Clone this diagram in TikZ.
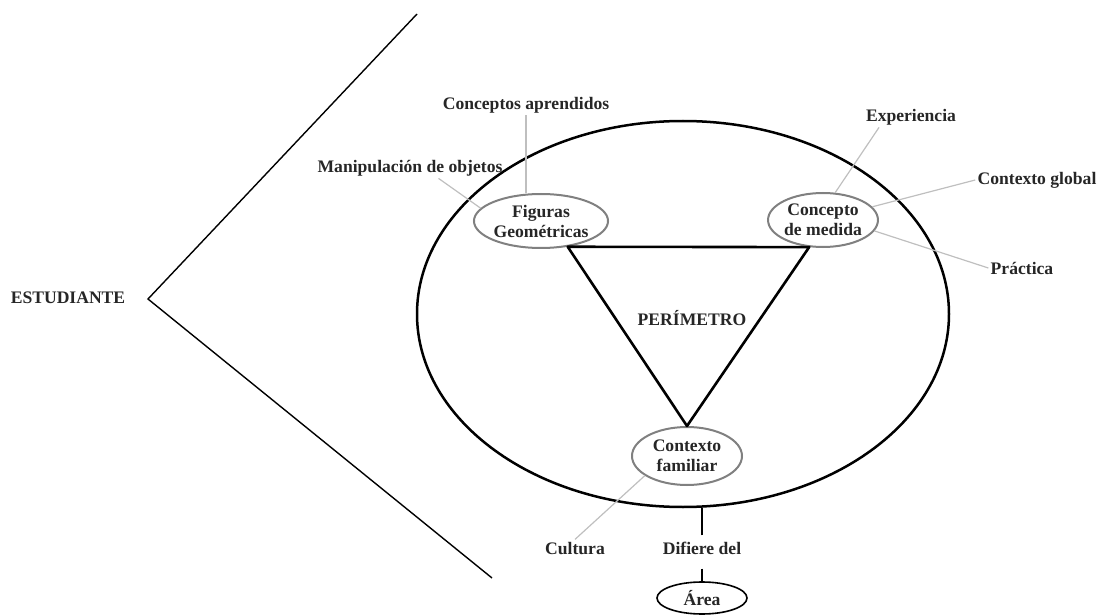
\documentclass[tikz,border=0pt]{standalone}
\usepackage{fontspec}
\setmainfont{Liberation Serif}
\usetikzlibrary{shapes.geometric}
\begin{document}
\begin{tikzpicture}[x=0.5pt,y=-0.5pt]
	\tikzstyle{Texto} = [font=\fontsize{8.8}{10}\selectfont\bfseries, text=black!85, inner sep=1pt, align=center]
	\tikzstyle{Bloque} = [Texto, ellipse, draw=black!50, line width=1pt, inner sep=0pt, fill=white]
	\tikzstyle{Guia} = [draw=black!25, line width=0.6pt]
	\tikzstyle{Lado} = [line width=1.3pt, line join=round]
	\useasboundingbox (0,0) rectangle (1099,615);
	\node (campo) at (683,314) [ellipse, draw, line width=1.25pt, minimum width=266pt, minimum height=193pt] {};
	\node (figuras) at (541,221) [Bloque, minimum width=66pt, minimum height=27pt] {Figuras\\Geométricas};
	\node (concepto) at (823,220) [Bloque, minimum width=53pt, minimum height=27pt] {Concepto\\de medida};
	\node (familiar) at (687,456) [Bloque, minimum width=55pt, minimum height=29pt] {Contexto\\familiar};
	\node (perimetro) at (692,318) [Texto] {PERÍMETRO};
	\node (estudiante) at (68,298) [Texto] {ESTUDIANTE};
	\node (aprendidos) at (526,105) [Texto] {Conceptos aprendidos};
	\node (manipulacion) at (410,168) [Texto] {Manipulación de objetos};
	\node (experiencia) at (911,117) [Texto] {Experiencia};
	\node (global) at (1037,180) [Texto] {Contexto global};
	\node (practica) at (1022,268) [Texto] {Práctica};
	\node (cultura) at (575,548) [Texto] {Cultura};
	\node (difiere) at (702,548) [Texto] {Difiere del};
	\node (area) at (702,598) [Bloque, draw=black, line width=0.8pt, minimum width=45pt, minimum height=16pt] {Área};
	\coordinate (vertice) at (148,299);
	\coordinate (arriba) at (417,14);
	\coordinate (abajo) at (492,578);
	% estudiante
	\draw [line width=0.7pt] (arriba) -- (vertice) -- (abajo);
	% triangulo
	\draw [Lado] (figuras.-44) -- (concepto.-117) -- (familiar.north) -- cycle;
	% guias
	\draw [Guia] (aprendidos.south) -- (aprendidos.south |- figuras.north);
	\draw [Guia] (manipulacion.-20) -- (figuras.168);
	\draw [Guia] (experiencia.-162) -- (concepto.66);
	\draw [Guia] (global.west) -- (concepto.15);
	\draw [Guia] (practica.west) -- (concepto.-12);
	\draw [Guia] (cultura.north) -- (familiar.205);
	% area
	\draw [line width=0.9pt, shorten <=2pt] (difiere.north) -- (difiere.north |- campo.south);
	\draw [line width=0.9pt, shorten <=6pt] (difiere.south) -- (area.north);
\end{tikzpicture}
\end{document}
